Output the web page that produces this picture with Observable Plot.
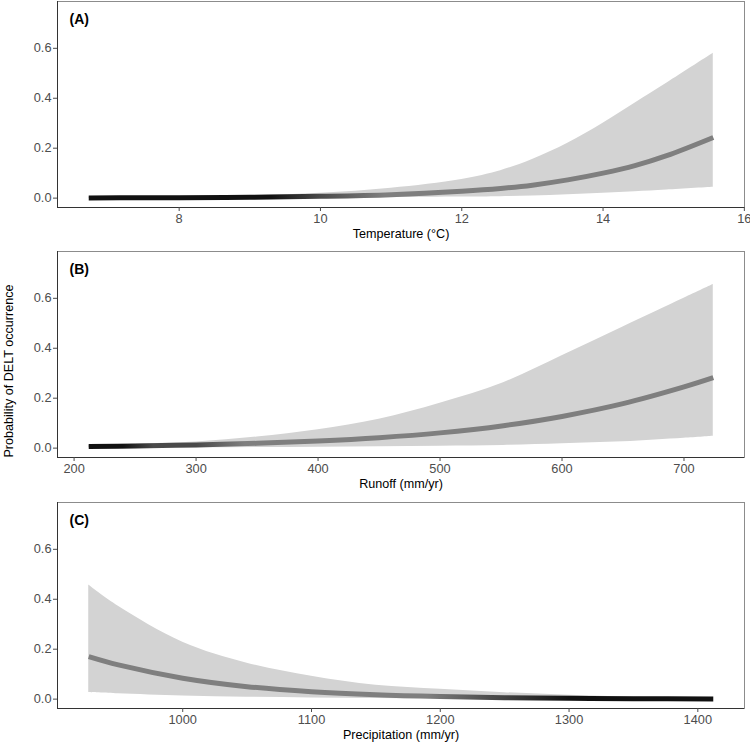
<!DOCTYPE html>
<html>
<head>
<meta charset="utf-8">
<script src="https://cdn.jsdelivr.net/npm/d3@7"></script>
<script src="https://cdn.jsdelivr.net/npm/@observablehq/plot@0.6"></script>
<style>
  body { margin: 0; background: white; }
  #chart { position: relative; width: 750px; height: 743px; overflow: hidden; background: white;
           font-family: "Liberation Sans", Arial, sans-serif; }
  #chart svg { position: absolute; left: 0; display: block; }
  #ylab { position: absolute; z-index: 2; left: 9px; top: 371px; transform: translate(-50%, -50%) rotate(-90deg);
          white-space: nowrap; font-size: 12.6px; color: #000; }
</style>
</head>
<body>
<div id="chart"><div id="ylab">Probability of DELT occurrence</div></div>
<script>
// (A) Temperature (°C): fitted probability with its confidence band
const tempX   = [6.72, 7.5, 8, 9, 10, 11, 12, 12.55, 13, 13.5, 14, 14.45, 14.9, 15.56];
const tempFit = [0.001, 0.0013, 0.0019, 0.0037, 0.0073, 0.014, 0.028, 0.039, 0.052, 0.073, 0.10, 0.13, 0.17, 0.243];
const tempLo  = [0.0001, 0.0002, 0.0003, 0.0008, 0.0018, 0.003, 0.005, 0.006, 0.009, 0.014, 0.02, 0.026, 0.033, 0.044];
const tempHi  = [0.004, 0.005, 0.006, 0.010, 0.020, 0.040, 0.075, 0.11, 0.155, 0.22, 0.30, 0.38, 0.46, 0.58];
const tempTicks = [8, 10, 12, 14, 16];

// (B) Runoff (mm/yr)
const runX   = [212, 250, 300, 350, 400, 450, 500, 552, 600, 650, 700, 724];
const runFit = [0.0064, 0.0087, 0.0129, 0.0192, 0.0284, 0.0418, 0.0611, 0.090, 0.127, 0.178, 0.245, 0.282];
const runLo  = [0.001, 0.0014, 0.002, 0.003, 0.004, 0.006, 0.008, 0.011, 0.018, 0.026, 0.04, 0.048];
const runHi  = [0.012, 0.016, 0.025, 0.045, 0.074, 0.116, 0.18, 0.262, 0.37, 0.485, 0.60, 0.655];
const runTicks = [200, 300, 400, 500, 600, 700];

// (C) Precipitation (mm/yr)
const precX   = [927, 950, 1000, 1050, 1100, 1150, 1200, 1250, 1300, 1350, 1412];
const precFit = [0.17, 0.137, 0.084, 0.050, 0.0296, 0.0173, 0.0101, 0.0058, 0.0034, 0.0019, 0.001];
const precLo  = [0.027, 0.022, 0.013, 0.008, 0.005, 0.003, 0.002, 0.0012, 0.0008, 0.0005, 0.0003];
const precHi  = [0.457, 0.372, 0.228, 0.144, 0.092, 0.056, 0.04, 0.026, 0.016, 0.009, 0.005];
const precTicks = [1000, 1100, 1200, 1300, 1400];

const yLimits = [0, 0.75];
const yTicks = [0, 0.2, 0.4, 0.6];

// ggplot-style 5% expansion of a range
const expand = ([a, b]) => [a - 0.05 * (b - a), b + 0.05 * (b - a)];
const yDomain = expand(yLimits);

const FONT = "'Liberation Sans', Arial, sans-serif";
const chart = document.getElementById("chart");

function panel({id, tag, title, xs, fit, lo, hi, ticks, shade, top}) {
  const rows = xs.map((x, i) => ({x, fit: fit[i], lo: lo[i], hi: hi[i]}));
  const xDomain = expand(d3.extent(xs));
  const svg = Plot.plot({
    width: 750, height: 251,
    marginLeft: 57, marginRight: 6, marginTop: 1, marginBottom: 44,
    style: {fontFamily: FONT, fontSize: "12.8px", color: "#4d4d4d", background: "white"},
    x: {domain: xDomain},
    y: {domain: yDomain},
    marks: [
      Plot.areaY(rows, {x: "x", y1: "lo", y2: "hi", fill: "#d3d3d3", curve: "catmull-rom"}),
      Plot.line(rows, {x: "x", y: "fit", stroke: `url(#${id})`, strokeWidth: 5,
                       strokeLinecap: "butt", curve: "catmull-rom"}),
      Plot.frame({stroke: "#8c8c8c"}),
      Plot.ruleX([xDomain[0]], {stroke: "#333"}),
      Plot.ruleY([yDomain[0]], {stroke: "#333"}),
      Plot.axisX({ticks, tickSize: 4, tickPadding: 2, tickFormat: d3.format("d"), label: null}),
      Plot.axisY({ticks: yTicks, tickSize: 4, tickPadding: 2, tickFormat: d3.format(".1f"), label: null}),
      Plot.text([title], {text: d => d, frameAnchor: "bottom", dy: 26, lineAnchor: "middle",
                          fill: "#000", fontSize: 12.6}),
      Plot.text([tag], {text: d => d, frameAnchor: "top-left", dx: 12, dy: 18, lineAnchor: "middle",
                        textAnchor: "start", fill: "#000", fontSize: 14, fontWeight: "bold"})
    ]
  });

  // Fitted curve darkens where the probability sits at zero
  const sx = svg.scale("x");
  const ns = "http://www.w3.org/2000/svg";
  const defs = document.createElementNS(ns, "defs");
  const grad = document.createElementNS(ns, "linearGradient");
  const x1 = sx.apply(shade[0][0]), x2 = sx.apply(shade[shade.length - 1][0]);
  grad.setAttribute("id", id);
  grad.setAttribute("gradientUnits", "userSpaceOnUse");
  grad.setAttribute("x1", x1); grad.setAttribute("x2", x2);
  grad.setAttribute("y1", 0); grad.setAttribute("y2", 0);
  for (const [v, c] of shade) {
    const s = document.createElementNS(ns, "stop");
    s.setAttribute("offset", (sx.apply(v) - x1) / (x2 - x1));
    s.setAttribute("stop-color", c);
    grad.appendChild(s);
  }
  defs.appendChild(grad);
  svg.insertBefore(defs, svg.firstChild);
  svg.style.top = top + "px";
  chart.appendChild(svg);
}

const GRAY = "#7f7f7f", DARK = "#4a4a4a", BLACK = "#111";

panel({id: "shadeA", tag: "(A)", title: "Temperature (°C)", xs: tempX, fit: tempFit, lo: tempLo, hi: tempHi,
       ticks: tempTicks, top: 0,
       shade: [[9.3, BLACK], [10.0, DARK], [10.9, GRAY]]});
panel({id: "shadeB", tag: "(B)", title: "Runoff (mm/yr)", xs: runX, fit: runFit, lo: runLo, hi: runHi,
       ticks: runTicks, top: 250,
       shade: [[240, BLACK], [265, DARK], [300, DARK], [340, GRAY]]});
panel({id: "shadeC", tag: "(C)", title: "Precipitation (mm/yr)", xs: precX, fit: precFit, lo: precLo, hi: precHi,
       ticks: precTicks, top: 501,
       shade: [[1190, GRAY], [1240, DARK], [1300, BLACK]]});
</script>
</body>
</html>
